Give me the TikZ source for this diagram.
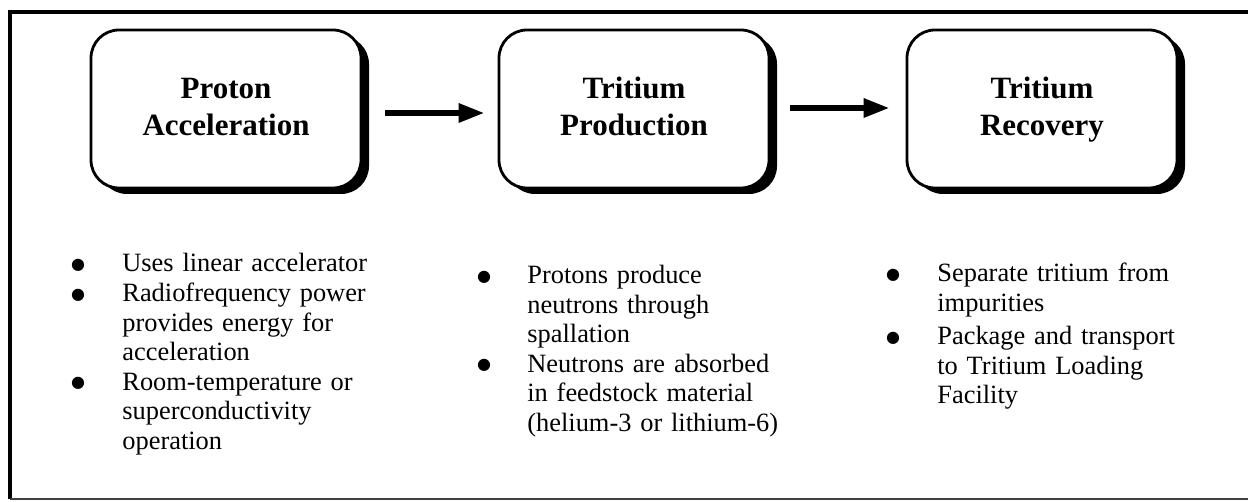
\documentclass[tikz,border=0pt]{standalone}
\usepackage{fontspec}
\setmainfont{Liberation Serif}
\newfontfamily\bulletfont{DejaVu Sans}
\usetikzlibrary{shadows,arrows.meta}
\begin{document}
\begin{tikzpicture}[x=0.5pt,y=-0.5pt,
  procbox/.style={draw, line width=1.4pt, rounded corners=14pt, fill=white,
    minimum width=135pt, minimum height=79pt, inner sep=0pt,
    drop shadow={shadow xshift=4pt, shadow yshift=-3pt, fill=black, opacity=1}},
  titletext/.style={inner sep=0pt, align=center,
    font=\bfseries\fontsize{15.5}{18.5}\selectfont},
  flow/.style={line width=3pt, -{Triangle[length=13pt,width=9pt]}},
  bul/.style={anchor=center, inner sep=0pt, font=\bulletfont\fontsize{8}{8}\selectfont},
  itemtext/.style={anchor=north west, inner sep=0pt, text width=135pt, align=left,
    font=\fontsize{13.2}{14.75}\selectfont},
  frameline/.style={line width=1.8pt},
  bottomline/.style={line width=1.2pt, black!75}]
\useasboundingbox (0,0) rectangle (1248,502);
\fill[white] (0,0) rectangle (1248,502);

% frame (right side absent in the reference)
\coordinate (ftr) at (1248,12);
\coordinate (ftl) at (10,12);
\coordinate (fbl) at (10,499);
\coordinate (fbr) at (1248,499);
\draw[frameline] (ftr) -- (ftl) -- (fbl);
\draw[bottomline] (fbl) -- (fbr);

% process boxes
\node[procbox] (b1) at (226,109) {};
\node[procbox] (b2) at (634,109) {};
\node[procbox] (b3) at (1042,109) {};
\node[titletext] (l1) at ([yshift=-1.5pt]b1.center) {Proton\\Acceleration\strut};
\node[titletext] (l2) at ([yshift=-1.5pt]b2.center) {Tritium\\Production\strut};
\node[titletext] (l3) at ([yshift=-1.5pt]b3.center) {Tritium\\Recovery\strut};

% arrows
\draw[flow, shorten <=11.5pt, shorten >=6.5pt] ([yshift=-2pt]b1.east) -- ([yshift=-2pt]b2.west);
\draw[flow, shorten <=10pt, shorten >=8pt] ([yshift=0.5pt]b2.east) -- ([yshift=0.5pt]b3.west);

% column 1
\node[bul] (d11) at (78,265) {●};
\node[itemtext] (t11) at (122,250.85) {\strut Uses linear accelerator};
\node[bul] (d12) at (78,295) {●};
\node[itemtext] (t12) at (122,280.85) {\strut Radiofrequency power\\provides energy for\\acceleration};
\node[bul] (d13) at (78,383.5) {●};
\node[itemtext] (t13) at (122,369.35) {\strut Room-temperature or\\superconductivity\\operation};

% column 2
\node[bul] (d21) at (484,277) {●};
\node[itemtext] (t21) at (527,262.85) {\strut Protons produce\\neutrons through\\spallation};
\node[bul] (d22) at (484,365.5) {●};
\node[itemtext] (t22) at (527,351.35) {\strut Neutrons are absorbed\\in feedstock material\\(helium-3 or lithium-6)};

% column 3
\node[bul] (d31) at (893,275) {●};
\node[itemtext] (t31) at (937,260.85) {\strut Separate tritium from\\impurities};
\node[bul] (d32) at (893,338) {●};
\node[itemtext] (t32) at (937,323.85) {\strut Package and transport\\to Tritium Loading\\Facility};
\end{tikzpicture}
\end{document}
